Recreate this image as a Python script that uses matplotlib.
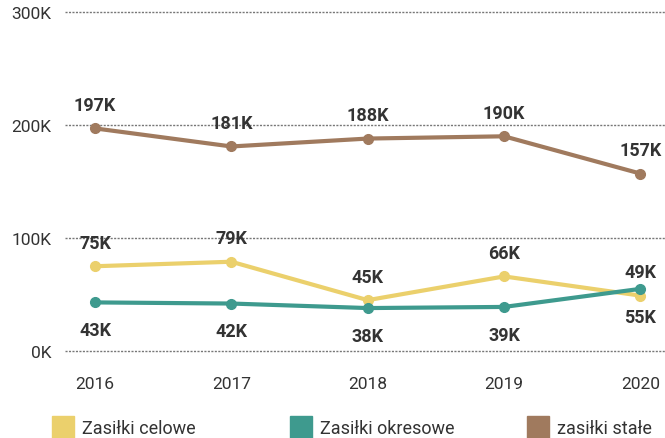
import matplotlib.pyplot as plt
from matplotlib.patches import Rectangle

years = [2016, 2017, 2018, 2019, 2020]
celowe = [75, 79, 45, 66, 49]
okresowe = [43, 42, 38, 39, 55]
stale = [197, 181, 188, 190, 157]
celowe_labels = ['75K', '79K', '45K', '66K', '49K']
okresowe_labels = ['43K', '42K', '38K', '39K', '55K']
stale_labels = ['197K', '181K', '188K', '190K', '157K']
legend_names = ['Zasiłki celowe', 'Zasiłki okresowe', 'zasiłki stałe']
yticks = [0, 100, 200, 300]
ytick_labels = ['0K', '100K', '200K', '300K']

c_yellow = '#ebd06c'
c_teal = '#3e9a8e'
c_brown = '#a07a5e'

plt.rcParams['font.family'] = ['Roboto', 'DejaVu Sans']

W, H = 665, 439
fig = plt.figure(figsize=(W / 100, H / 100), dpi=100)
ax = fig.add_axes([65 / W, (H - 352) / H, 1 - 65 / W, (352 - 13) / H])

series = [
    (celowe, celowe_labels, c_yellow, 17),
    (okresowe, okresowe_labels, c_teal, -20),
    (stale, stale_labels, c_brown, 17),
]
for vals, labels, color, off in series:
    ax.plot(years, vals, color=color, lw=3, marker='o', ms=7, zorder=3,
            solid_capstyle='round')
    for x, v, t in zip(years, vals, labels):
        ax.annotate(t, (x, v), xytext=(0, off), textcoords='offset points',
                    ha='center', va='center', fontsize=13, fontweight='bold',
                    color='#333333', zorder=4)

ax.set_xlim(2015.78, 2020.18)
ax.set_ylim(0, 300)
ax.set_yticks(yticks)
ax.set_yticklabels(ytick_labels)
ax.set_xticks(years)
ax.set_xticklabels([str(y) for y in years])
ax.grid(axis='y', color='#777777', linestyle=(0, (1.5, 1)), linewidth=1)
for gl in ax.get_ygridlines():
    gl.set_clip_on(False)
ax.set_axisbelow(True)
for s in ax.spines.values():
    s.set_visible(False)
ax.tick_params(length=0, labelsize=12.5, labelcolor='#333333')
ax.tick_params(axis='x', pad=18)
ax.tick_params(axis='y', pad=10)

for i, (name, color) in enumerate(zip(legend_names, [c_yellow, c_teal, c_brown])):
    x0 = 52 + i * 237.5
    fig.patches.append(Rectangle((x0 / W, 0), 22 / W, 22 / H, transform=fig.transFigure,
                                 color=color, figure=fig))
    fig.text((x0 + 30) / W, 10 / H, name, fontsize=13, color='#333333',
             va='center', ha='left')

fig.savefig('out.png', dpi=100)
